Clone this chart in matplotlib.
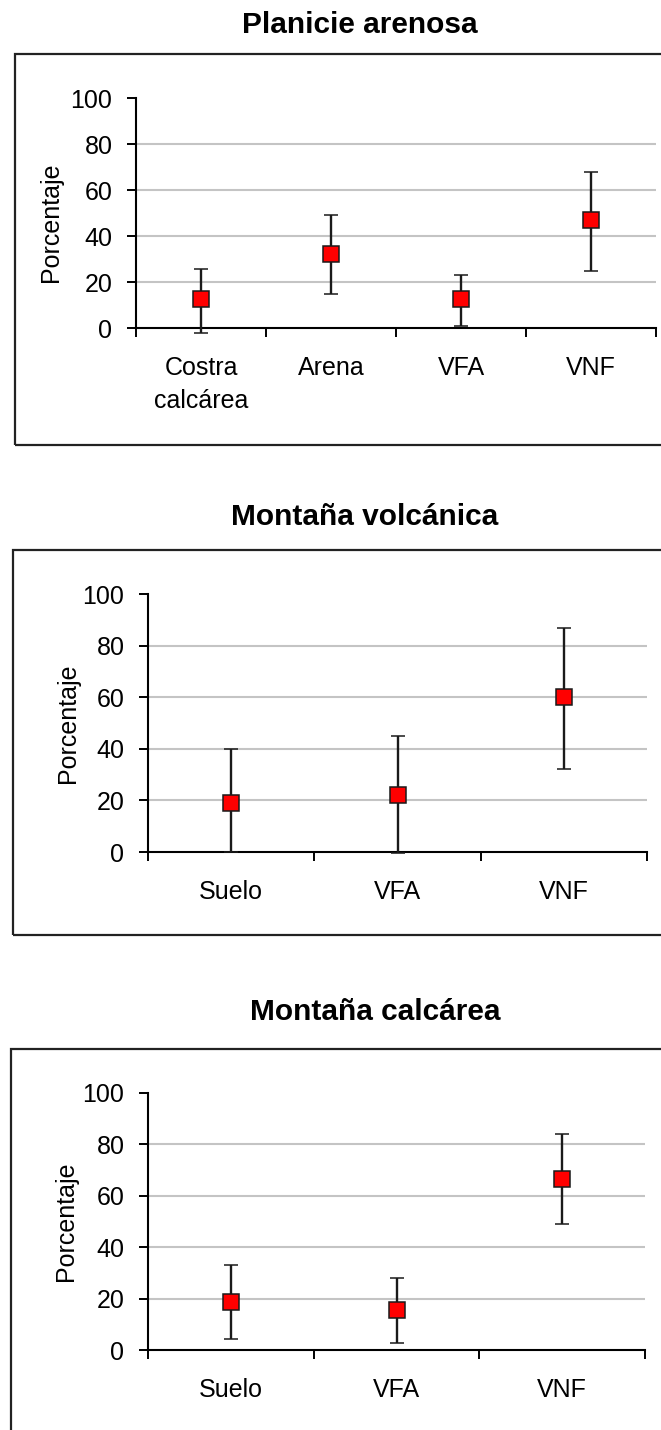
import matplotlib
matplotlib.use("Agg")
import matplotlib.pyplot as plt
import matplotlib.patches as patches
import numpy as np

plt.rcParams['font.family'] = ['Liberation Sans', 'DejaVu Sans']

# Planicie arenosa
cats_1 = ['Costra\ncalcárea', 'Arena', 'VFA', 'VNF']
mean_1 = [12.5, 32, 12.5, 47]
low_1 = [-2, 15, 1, 25]
high_1 = [25.5, 49, 23, 68]

# Montaña volcánica
cats_2 = ['Suelo', 'VFA', 'VNF']
mean_2 = [19, 22, 60]
low_2 = [0, -0.5, 32]
high_2 = [40, 45, 87]

# Montaña calcárea
cats_3 = ['Suelo', 'VFA', 'VNF']
mean_3 = [18.5, 15.5, 66.5]
low_3 = [4.3, 2.7, 49]
high_3 = [33, 28, 84]

titles = ['Planicie arenosa', 'Montaña volcánica', 'Montaña calcárea']
y_ticks = [0, 20, 40, 60, 80, 100]

W, H = 661, 1430


def fx(px):
    return px / W


def fy(py):
    return 1 - py / H


def draw_panel(fig, box, axpos, title_xy, cats, mean, low, high, ylab_xy):
    # frame around the panel
    bx0, by0, bx1, by1 = box
    fig.patches.append(patches.Rectangle((fx(bx0), fy(by1)), fx(bx1) - fx(bx0), fy(by0) - fy(by1),
                                         transform=fig.transFigure, fill=False,
                                         edgecolor='#222222', lw=1.6))
    fig.text(fx(title_xy[0]), fy(title_xy[1]), title_xy[2], ha='center', va='center',
             fontsize=21.5, fontweight='bold')

    l, r, top, bot = axpos
    ax = fig.add_axes([fx(l), fy(bot), fx(r) - fx(l), fy(top) - fy(bot)])
    n = len(cats)
    x = np.arange(n) + 0.5
    m = np.array(mean)
    err = [m - np.array(low), np.array(high) - m]
    ax.errorbar(x, m, yerr=err, fmt='s', color='#1a1a1a', ecolor='#1a1a1a', elinewidth=1.7,
                capsize=5, capthick=1.7, markersize=11.5, markerfacecolor='#ff0000',
                markeredgecolor='#1a1a1a', markeredgewidth=1.1, clip_on=False, zorder=3)

    ax.set_xlim(0, n)
    ax.set_ylim(0, 100)
    ax.set_yticks(y_ticks)
    for g in y_ticks[1:-1]:
        ax.axhline(g, color='#c4c4c4', lw=1.5, zorder=0)

    ax.set_xticks(np.arange(n + 1))
    ax.set_xticklabels([])
    ax.set_xticks(x, minor=True)
    ax.set_xticklabels(cats, minor=True, fontsize=18, linespacing=1.45)
    ax.tick_params(axis='x', which='minor', length=0, pad=20.5)
    ax.tick_params(axis='x', which='major', direction='out', length=6.5, width=1.4)
    ax.tick_params(axis='y', direction='out', length=6.5, width=1.4, labelsize=18, pad=10.5)

    for s in ['top', 'right']:
        ax.spines[s].set_visible(False)
    for s in ['left', 'bottom']:
        ax.spines[s].set_linewidth(1.5)
    ax.set_ylabel('Porcentaje', fontsize=18)
    ax.yaxis.set_label_coords(ylab_xy[0], ylab_xy[1])
    return ax


fig = plt.figure(figsize=(6.61, 14.3), dpi=100)

draw_panel(fig, (15, 54, 680, 445), (136, 656, 98, 328), (360, 25, titles[0]),
           cats_1, mean_1, low_1, high_1, (-0.14, 0.46))
draw_panel(fig, (13, 550, 680, 935), (148, 647, 594, 852), (365, 517, titles[1]),
           cats_2, mean_2, low_2, high_2, (-0.136, 0.5))
draw_panel(fig, (10.5, 1049, 680, 1450), (148, 645, 1093, 1350), (375, 1012, titles[2]),
           cats_3, mean_3, low_3, high_3, (-0.141, 0.5))

fig.savefig('out.png', dpi=100)
